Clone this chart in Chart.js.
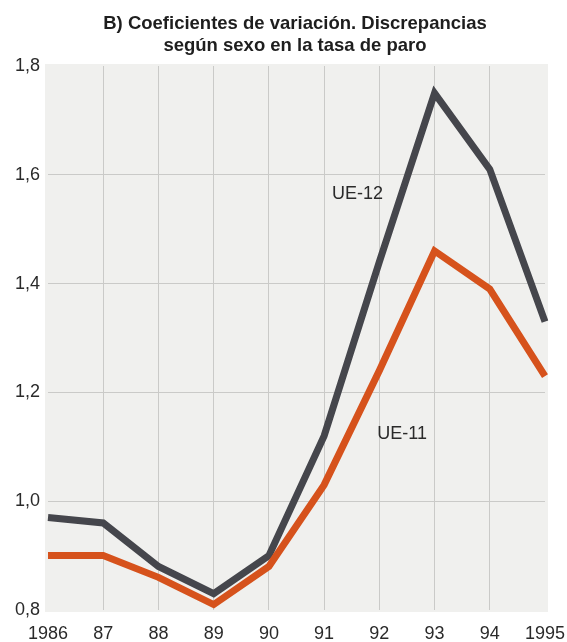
<!DOCTYPE html>
<html>
<head>
<meta charset="utf-8">
<script src="https://cdn.jsdelivr.net/npm/chart.js@4"></script>
<style>
  html, body { margin: 0; padding: 0; background: #ffffff; }
  #wrap { width: 567px; height: 642px; }
</style>
</head>
<body>
<div id="wrap"><canvas id="c" width="567" height="642"></canvas></div>
<script>
const titleLines = ['B) Coeficientes de variación. Discrepancias', 'según sexo en la tasa de paro'];
const years = ['1986', '87', '88', '89', '90', '91', '92', '93', '94', '1995'];
const ue12 = [0.97, 0.96, 0.88, 0.83, 0.90, 1.12, 1.44, 1.75, 1.61, 1.33];
const ue11 = [0.90, 0.90, 0.86, 0.81, 0.88, 1.03, 1.24, 1.46, 1.39, 1.23];
const yTickValues = [0.8, 1.0, 1.2, 1.4, 1.6, 1.8];
const yTickLabels = ['0,8', '1,0', '1,2', '1,4', '1,6', '1,8'];
const seriesNames = ['UE-12', 'UE-11'];

const FONT = "'Liberation Sans', Arial, Helvetica, sans-serif";

const decor = {
  id: 'decor',
  beforeDraw(chart) {
    const { ctx, chartArea: a } = chart;
    ctx.save();
    ctx.fillStyle = '#f0f0ee';
    ctx.fillRect(a.left - 3, a.top - 2, a.right - a.left + 6, a.bottom - a.top + 4);
    ctx.restore();
  },
  afterDraw(chart) {
    const { ctx } = chart;
    const xs = chart.scales.x, ys = chart.scales.y;
    ctx.save();
    ctx.fillStyle = '#1e1e1e';
    ctx.textAlign = 'center';
    ctx.textBaseline = 'alphabetic';
    ctx.font = 'bold 18.5px ' + FONT;
    ctx.fillText(titleLines[0], 295, 29);
    ctx.fillText(titleLines[1], 295, 51);
    ctx.font = '18px ' + FONT;
    ctx.fillStyle = '#2a2a2a';
    ctx.textAlign = 'left';
    // series labels placed next to their lines, anchored to data coordinates
    ctx.fillText(seriesNames[0], xs.getPixelForValue(5) + 8, ys.getPixelForValue(1.555));
    ctx.fillText(seriesNames[1], xs.getPixelForValue(6) - 2, ys.getPixelForValue(1.115));
    ctx.restore();
  }
};

new Chart(document.getElementById('c'), {
  type: 'line',
  data: {
    labels: years,
    datasets: [
      {
        label: seriesNames[1],
        data: ue11,
        borderColor: '#d6521c',
        borderWidth: 7,
        pointRadius: 0,
        tension: 0,
        borderJoinStyle: 'miter',
        borderCapStyle: 'butt',
        order: 1
      },
      {
        label: seriesNames[0],
        data: ue12,
        borderColor: '#45464c',
        borderWidth: 7,
        pointRadius: 0,
        tension: 0,
        borderJoinStyle: 'miter',
        borderCapStyle: 'butt',
        order: 2
      }
    ]
  },
  options: {
    responsive: false,
    animation: false,
    devicePixelRatio: 1,
    layout: { padding: { left: 0, right: 22, top: 66, bottom: 0 } },
    plugins: {
      legend: { display: false },
      title: { display: false },
      tooltip: { enabled: false }
    },
    scales: {
      x: {
        offset: false,
        border: { display: false },
        grid: {
          drawTicks: false,
          lineWidth: 1,
          color: (c) => (c.index === 0 || c.index === years.length - 1) ? 'rgba(0,0,0,0)' : '#cacac8'
        },
        ticks: {
          padding: 13,
          color: '#2a2a2a',
          font: { family: FONT, size: 18 },
          maxRotation: 0,
          autoSkip: false
        },
        afterFit: (s) => { s.height = 32; s.paddingLeft = 0; s.paddingRight = 0; }
      },
      y: {
        min: 0.8,
        max: 1.8,
        border: { display: false },
        afterBuildTicks: (s) => { s.ticks = yTickValues.map(v => ({ value: v })); },
        grid: {
          drawTicks: false,
          lineWidth: 1,
          color: (c) => (c.index === 0 || c.index === yTickValues.length - 1) ? 'rgba(0,0,0,0)' : '#cacac8'
        },
        ticks: {
          padding: 8,
          color: '#2a2a2a',
          font: { family: FONT, size: 18 },
          callback: (v, i) => yTickLabels[i]
        },
        afterFit: (s) => { s.width = 48; s.paddingTop = 0; s.paddingBottom = 0; }
      }
    }
  },
  plugins: [decor]
});
</script>
</body>
</html>
